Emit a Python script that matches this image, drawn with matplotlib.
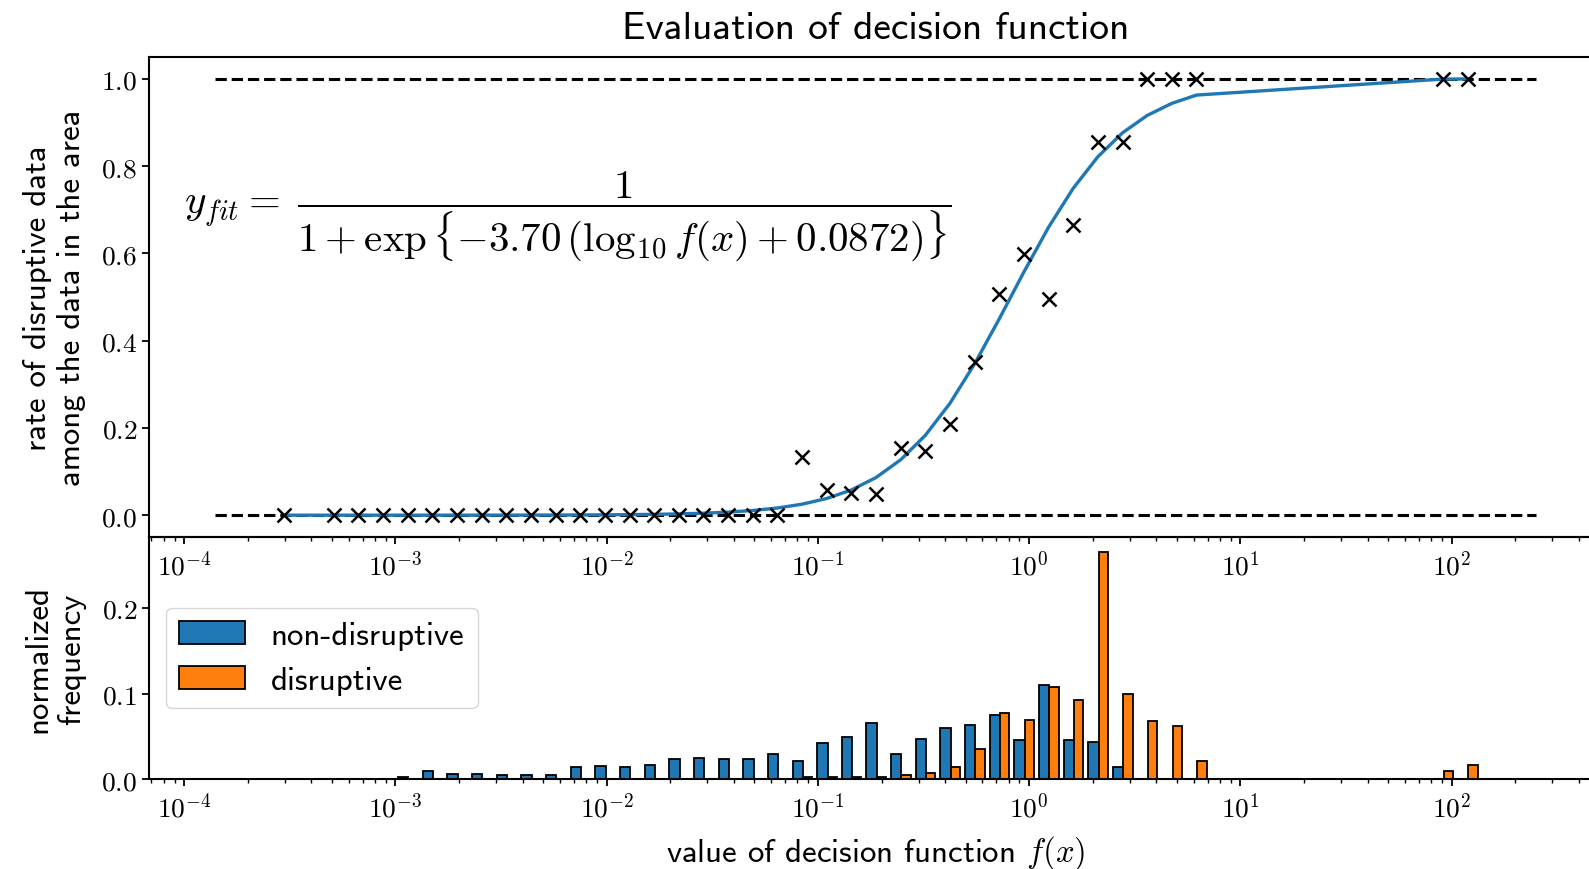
import numpy as np
import matplotlib
matplotlib.use('Agg')
import matplotlib.pyplot as plt
from matplotlib.ticker import FuncFormatter

plt.rcParams['mathtext.fontset'] = 'cm'
plt.rcParams['font.family'] = 'cmss10'
plt.rcParams['axes.unicode_minus'] = False

base = 23.7

# log10 of first/last histogram bin edge (equal bins in log space)
bin_lo, bin_hi = -3.584, 2.134

# rate of disruptive data per bin (nan = empty bin)
nan = np.nan
rate = np.array([
    0.0, nan, 0.0, 0.0, 0.0, 0.0, 0.0, 0.0, 0.0, 0.0,
    0.0, 0.0, 0.0, 0.0, 0.0, 0.0, 0.0, 0.0, 0.0, 0.0,
    0.0, 0.134, 0.058, 0.050, 0.048, 0.153, 0.146, 0.208, 0.352, 0.508,
    0.599, 0.495, 0.666, 0.855, 0.855, 1.0, 1.0, 1.0, nan, nan,
    nan, nan, nan, nan, nan, nan, nan, 1.0, 1.0])

# normalized frequency per bin
nondis = [
    0.0006, 0.0, 0.0003, 0.0006, 0.0004, 0.002, 0.0093, 0.0058, 0.0058, 0.0045,
    0.0045, 0.0045, 0.0145, 0.0156, 0.0145, 0.016, 0.0234, 0.025, 0.023, 0.0234,
    0.0288, 0.021, 0.0417, 0.049, 0.0654, 0.0288, 0.0467, 0.060, 0.0635, 0.0744,
    0.046, 0.110, 0.046, 0.043, 0.014, 0.0, 0.0, 0.0, 0.0, 0.0,
    0.0, 0.0, 0.0, 0.0, 0.0, 0.0, 0.0, 0.0, 0.0]
dis = [
    0.0, 0.0, 0.0, 0.0, 0.0, 0.0, 0.0, 0.0, 0.0, 0.0,
    0.0, 0.0, 0.0, 0.0, 0.0, 0.0, 0.0, 0.0, 0.0, 0.0,
    0.0, 0.0023, 0.002, 0.002, 0.002, 0.0043, 0.0066, 0.014, 0.035, 0.077,
    0.069, 0.1075, 0.092, 0.265, 0.100, 0.068, 0.0615, 0.0214, 0.0, 0.0,
    0.0, 0.0, 0.0, 0.0, 0.0, 0.0, 0.0, 0.0093, 0.0167]

# fit parameters
fit_a, fit_b = 3.70, 0.0872
ref_x = [1.4e-4, 250]
decades = [1e-4, 1e-3, 1e-2, 1e-1, 1e0, 1e1, 1e2]

edges = np.logspace(bin_lo, bin_hi, len(rate) + 1)
centers = np.sqrt(edges[:-1] * edges[1:])

fig = plt.figure(figsize=(15.89, 8.70), dpi=100)
ax1 = fig.add_axes([0.0938, 0.3816, 0.9142, 0.5517])
ax2 = fig.add_axes([0.0938, 0.1034, 0.9142, 0.2782], sharex=ax1)
ax2.patch.set_visible(False)

ax1.set_xscale('log')

ax1.plot(ref_x, [0, 0], 'k--', lw=2.2)
ax1.plot(ref_x, [1, 1], 'k--', lw=2.2)
ok = ~np.isnan(rate)
xf = centers[ok]
yfit = 1 / (1 + np.exp(-fit_a * (np.log10(xf) + fit_b)))
ax1.plot(xf, yfit, color='#1f77b4', lw=2.4)
ax1.plot(xf, rate[ok], 'kx', ms=10.5, mew=1.8)

ax1.text(1e-4, 0.685,
         r'$y_{fit} =\; \dfrac{1}{1 + \exp\{-3.70\,(\log_{10} f(x) + 0.0872)\}}$',
         fontsize=29.5, va='center', ha='left')

ax1.set_title('Evaluation of decision function', fontsize=base * 1.2, pad=14)
ax1.set_ylabel('rate of disruptive data\namong the data in the area',
               fontsize=base, labelpad=11)
ax1.set_yticks([0, 0.2, 0.4, 0.6, 0.8, 1.0])

n, b, patches = ax2.hist([centers, centers], bins=edges, weights=[nondis, dis],
                         color=['#1f77b4', '#ff7f0e'], edgecolor='black', linewidth=1.3,
                         label=['non-disruptive', 'disruptive'])
ax2.legend(loc='center left', fontsize=base)
# empty bins are not drawn
for group in patches:
    for p in group:
        if p.get_height() == 0:
            p.set_visible(False)

ax2.set_ylim(0, 0.283)
ax2.set_yticks([0, 0.1, 0.2])
ax2.set_ylabel('normalized\nfrequency', fontsize=base, labelpad=11)
ax2.set_xlabel('value of decision function $f(x)$', fontsize=base, labelpad=9)

log_fmt = FuncFormatter(lambda v, pos: r'$10^{%d}$' % round(np.log10(v)))
lin_fmt = FuncFormatter(lambda v, pos: r'$%.1f$' % v)
for ax in (ax1, ax2):
    ax.set_xticks(decades)
    ax.xaxis.set_major_formatter(log_fmt)
    ax.yaxis.set_major_formatter(lin_fmt)
    ax.tick_params(which='major', labelsize=base * 0.833, length=5, width=1.3)
    ax.tick_params(which='minor', length=3, width=1.0)
    for s in ax.spines.values():
        s.set_linewidth(1.5)

fig.savefig('out.png', dpi=100)
